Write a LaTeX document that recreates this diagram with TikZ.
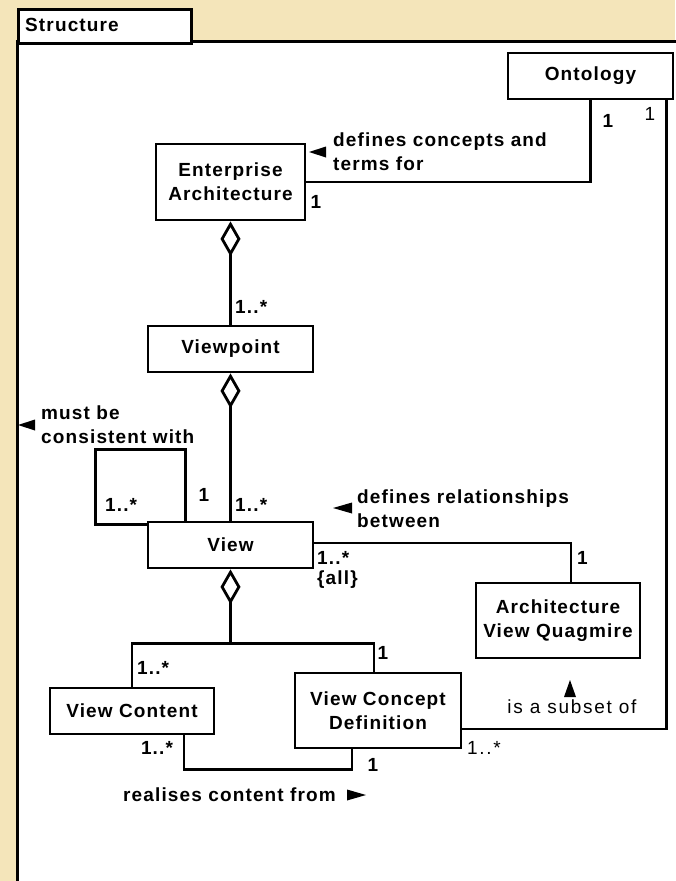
\documentclass[tikz,border=0pt]{standalone}
\usepackage{fontspec}
\setmainfont{Liberation Sans}[LetterSpace=6]
\newfontfamily\plainf{Liberation Sans}[LetterSpace=9]
\usetikzlibrary{arrows.meta}
\definecolor{parch}{RGB}{244,229,186}
\begin{document}
\begin{tikzpicture}[x=1pt,y=-1pt,
  every node/.style={font=\fontsize{19}{24}\selectfont\bfseries, inner sep=0pt},
  box/.style={draw, line width=2.8pt, fill=white, align=center},
  conn/.style={line width=2.8pt},
  agg/.style={conn, {Diamond[open,fill=white,length=35pt,width=20pt]}-},
  plain/.style={font=\fontsize{19}{24}\selectfont\plainf}]
\useasboundingbox (0,0) rectangle (675,881);
\fill[parch] (0,0) rectangle (675,881);
\fill[white] (17,41) rectangle (677,883);
\draw[line width=3pt] (17,883) -- (17,41) -- (677,41);
\node[draw,line width=3pt,fill=white,minimum width=173pt,minimum height=34pt,anchor=north west] (tab) at (17,8) {};
\node[anchor=west] (tabt) at (25,25) {Structure};
% boxes
\node[box,minimum width=165pt,minimum height=46pt] (ont) at (590.5,76) {Ontology};
\node[box,minimum width=149pt,minimum height=76pt] (ea) at (230.5,182) {Enterprise\\Architecture};
\node[box,minimum width=165pt,minimum height=46pt] (vp) at (230.5,349) {Viewpoint};
\node[box,minimum width=165pt,minimum height=46pt] (view) at (230.5,545) {View};
\node[box,minimum width=164pt,minimum height=75pt] (avq) at (558,620.5) {Architecture\\View Quagmire};
\node[box,minimum width=164pt,minimum height=46pt] (vc) at (132,711) {View Content};
\node[box,minimum width=166pt,minimum height=75pt] (vcd) at (378,710.5) {View Concept\\Definition};
% connectors
\draw[conn] (ont.south) |- (ea.east);
\draw[conn] ([xshift=-8pt]ont.south east) |- ([yshift=-18.5pt]vcd.east);
\draw[agg] (ea.south) -- (vp.north);
\draw[agg] (vp.south) -- (view.north);
\draw[conn] ([yshift=-4pt]view.north west) -- ++(-51,0) -- ++(0,-75) -- ++(90,0) coordinate (lp) -- (lp |- view.north);
\draw[conn] ([yshift=2pt]view.east) -| ([xshift=13pt]avq.north);
\draw[agg] (view.south) -- ++(0,74) coordinate (br);
\draw[conn] (vc.north) |- (br) -| ([xshift=-4pt]vcd.north);
\draw[conn] ([xshift=52pt]vc.south) -- ++(0,34) -| ([xshift=-26pt]vcd.south);
% labels
\node (l1) at (608,121) {1};
\node[plain] (l2) at (650,114) {1};
\node[anchor=west,align=left] (dct) at (333,152) {defines concepts and\\terms for};
\fill (309,152) -- (326,146.5) -- (326,157.5) -- cycle;
\node (l3) at (316,202) {1};
\node[anchor=west] (l4) at (235,307) {1..*};
\node[anchor=west,align=left] (mbc) at (41,425) {must be\\consistent with};
\fill (18,425) -- (35,419.5) -- (35,430.5) -- cycle;
\node[anchor=west] (l5) at (105,505) {1..*};
\node (l6) at (204,495) {1};
\node[anchor=west] (l7) at (235,505) {1..*};
\node[anchor=west,align=left] (drb) at (357,508.5) {defines relationships\\between};
\fill (333,508) -- (352,502.5) -- (352,513.5) -- cycle;
\node[anchor=west] (l8) at (317,558) {1..*};
\node[anchor=west] (l9) at (317,580) {\{all\}};
\node[anchor=west] (l10) at (577,558) {1};
\node[anchor=west] (l11) at (137,668) {1..*};
\node (l12) at (383,653) {1};
\node (l13) at (157,748) {1..*};
\node (l14) at (373,765) {1};
\node[anchor=west] (rcf) at (123,795) {realises content from};
\fill (366,795) -- (347,789.5) -- (347,800.5) -- cycle;
\node[plain] (sub) at (572,707) {is a subset of};
\fill (570,680) -- (564,697) -- (576,697) -- cycle;
\node[plain,anchor=west] (l15) at (467,748) {1..*};
\end{tikzpicture}
\end{document}
